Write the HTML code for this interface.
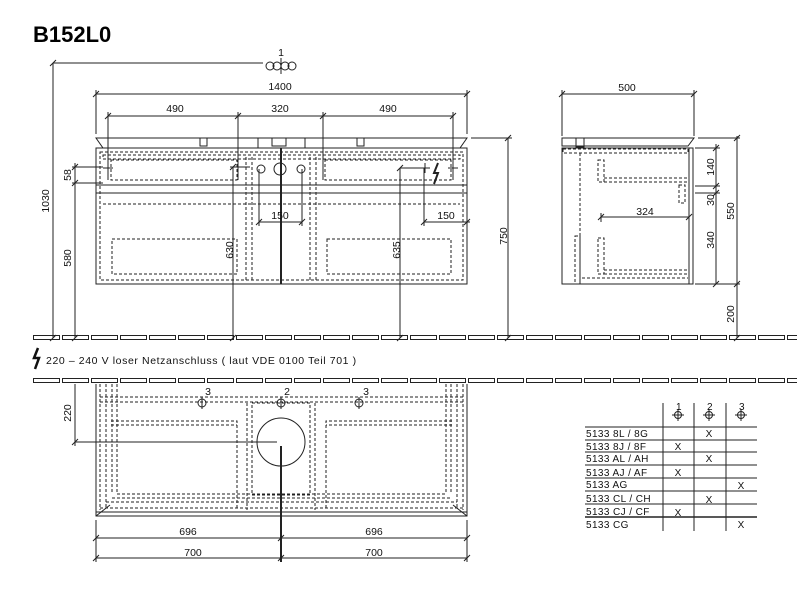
<!DOCTYPE html>
<html><head><meta charset="utf-8"><style>
html,body{margin:0;padding:0;background:#fff;width:797px;height:600px;overflow:hidden}
svg{display:block}
text{font-family:"Liberation Sans",sans-serif;fill:#111}
</style></head><body>
<svg width="797" height="600" viewBox="0 0 797 600" xmlns="http://www.w3.org/2000/svg">
<defs>
<pattern id="fl1" x="33" y="335" width="29" height="6" patternUnits="userSpaceOnUse">
<rect x="0.5" y="0.5" width="26" height="4" fill="none" stroke="#222" stroke-width="1"/>
</pattern>
<pattern id="fl2" x="33" y="378" width="29" height="6" patternUnits="userSpaceOnUse">
<rect x="0.5" y="0.5" width="26" height="4" fill="none" stroke="#222" stroke-width="1"/>
</pattern>
</defs>
<text x="33" y="42" font-size="22" font-weight="bold" style="fill:#000">B152L0</text>

<g stroke="#222" stroke-width="1" fill="none">
<rect x="33" y="335" width="764" height="6" fill="url(#fl1)" stroke="none"/>
<rect x="33" y="378" width="764" height="6" fill="url(#fl2)" stroke="none"/>

<line x1="53" y1="63" x2="53" y2="338"/>
<line x1="53" y1="63" x2="263" y2="63"/>
<path d="M50 66 L56 60 M50 341 L56 335"/>
<circle cx="270" cy="66" r="4"/><circle cx="277" cy="66" r="4"/><circle cx="285" cy="66" r="4"/><circle cx="292" cy="66" r="4"/>
<line x1="281" y1="58" x2="281" y2="74"/>

<line x1="96" y1="94" x2="467" y2="94"/>
<line x1="96" y1="90" x2="96" y2="134"/><line x1="467" y1="90" x2="467" y2="134"/>
<path d="M93 97 L99 91 M464 97 L470 91"/>
<line x1="108" y1="116" x2="453" y2="116"/>
<line x1="108" y1="112" x2="108" y2="180"/><line x1="453" y1="112" x2="453" y2="180"/>
<line x1="238" y1="112" x2="238" y2="180"/><line x1="323" y1="112" x2="323" y2="180"/>
<path d="M105 119 L111 113 M235 119 L241 113 M320 119 L326 113 M450 119 L456 113"/>

<path d="M96 138 L467 138 L460 148 L103 148 Z"/>
<path d="M200 138 v8 h7 v-8 M272 138 v8 h14 v-8 M357 138 v8 h7 v-8 M258 138 v10 M305 138 v10"/>
<rect x="96" y="148" width="371" height="136"/>
<line x1="96" y1="185" x2="467" y2="185"/>
<line x1="96" y1="193" x2="467" y2="193"/>
<line x1="281" y1="148" x2="281" y2="284" stroke-width="2"/>
<circle cx="261" cy="169" r="4"/><circle cx="280" cy="169" r="6"/><circle cx="301" cy="169" r="4"/>
<line x1="471" y1="138" x2="512" y2="138"/>
<line x1="508" y1="138" x2="508" y2="338"/>
<path d="M505 141 L511 135 M505 341 L511 335"/>
<line x1="72" y1="167" x2="103" y2="167"/><line x1="72" y1="183" x2="103" y2="183"/>
<line x1="75" y1="163" x2="75" y2="338"/>
<path d="M72 170 L78 164 M72 186 L78 180 M72 341 L78 335"/>
<line x1="233" y1="167" x2="233" y2="338"/><line x1="230" y1="167" x2="250" y2="167"/>
<path d="M230 341 L236 335 M230 170 L236 164"/>
<line x1="400" y1="168" x2="425" y2="168"/><line x1="400" y1="168" x2="400" y2="338"/>
<path d="M397 341 L403 335 M397 171 L403 165"/>
<path d="M438 163 L434 173 L438 173 L434 184" stroke-width="2"/>
<path d="M425 163 v10 M420 168 h10 M453 163 v10 M448 168 h10 M108 163 v10 M103 168 h10"/>
<line x1="259" y1="222" x2="302" y2="222"/><line x1="259" y1="169" x2="259" y2="226"/><line x1="302" y1="169" x2="302" y2="226"/>
<path d="M256 225 L262 219 M299 225 L305 219"/>
<line x1="424" y1="222" x2="470" y2="222"/><line x1="424" y1="168" x2="424" y2="226"/>
<path d="M421 225 L427 219 M464 225 L470 219"/>
</g>
<g stroke="#222" stroke-width="1" fill="none" stroke-dasharray="3,2">
<rect x="100" y="152" width="363" height="128"/>
<rect x="103" y="155" width="357" height="4"/>
<rect x="111" y="160" width="126" height="20"/><rect x="325" y="160" width="126" height="20"/>
<line x1="103" y1="204" x2="460" y2="204"/>
<rect x="112" y="239" width="125" height="35"/><rect x="327" y="239" width="124" height="35"/>
<line x1="246" y1="157" x2="246" y2="280"/><line x1="252" y1="157" x2="252" y2="280"/>
<line x1="310" y1="157" x2="310" y2="280"/><line x1="316" y1="157" x2="316" y2="280"/>
</g>

<g font-size="10.5" text-anchor="middle">
<text x="281" y="56">1</text>
<text x="280" y="90">1400</text>
<text x="175" y="112">490</text><text x="280" y="112">320</text><text x="388" y="112">490</text>
<text x="280" y="219">150</text><text x="446" y="219">150</text>
<text transform="translate(71,175) rotate(-90)">58</text>
<text transform="translate(71,258) rotate(-90)">580</text>
<text transform="translate(49,201) rotate(-90)">1030</text>
<text transform="translate(233,250) rotate(-90)">630</text>
<text transform="translate(400,250) rotate(-90)">635</text>
<text transform="translate(507,236) rotate(-90)">750</text>
</g>

<g stroke="#222" stroke-width="1" fill="none">
<line x1="562" y1="94" x2="694" y2="94"/>
<line x1="562" y1="90" x2="562" y2="136"/><line x1="694" y1="90" x2="694" y2="136"/>
<path d="M559 97 L565 91 M691 97 L697 91"/>
<path d="M562 138 L694 138 L688 146 L562 146 Z"/>
<path d="M576 138 v9 h8 v-9"/>
<rect x="562" y="148" width="131" height="136"/>
<line x1="689" y1="148" x2="689" y2="284"/>
<line x1="695" y1="148" x2="720" y2="148"/><line x1="695" y1="186" x2="720" y2="186"/><line x1="695" y1="193" x2="720" y2="193"/>
<line x1="716" y1="144" x2="716" y2="284"/>
<path d="M713 151 L719 145 M713 189 L719 183 M713 196 L719 190 M713 287 L719 281"/>
<line x1="698" y1="138" x2="740" y2="138"/>
<line x1="737" y1="136" x2="737" y2="338"/>
<line x1="695" y1="284" x2="740" y2="284"/>
<path d="M734 141 L740 135 M734 287 L740 281 M734 341 L740 335"/>
<line x1="601" y1="217" x2="689" y2="217"/><line x1="601" y1="213" x2="601" y2="222"/>
<path d="M598 220 L604 214 M686 220 L692 214"/>
</g>
<g stroke="#222" stroke-width="1" fill="none" stroke-dasharray="3,2">
<rect x="563" y="149" width="125" height="4"/>
<line x1="580" y1="153" x2="580" y2="284"/>
<rect x="598" y="160" width="6" height="22"/><line x1="604" y1="178" x2="688" y2="178"/><line x1="604" y1="182" x2="688" y2="182"/>
<rect x="679" y="185" width="6" height="18"/>
<rect x="598" y="238" width="6" height="36"/><line x1="604" y1="270" x2="688" y2="270"/><line x1="604" y1="274" x2="688" y2="274"/>
<rect x="575" y="236" width="5" height="48"/>
<line x1="582" y1="278" x2="688" y2="278"/>
</g>
<g font-size="10.5" text-anchor="middle">
<text x="627" y="91">500</text>
<text x="645" y="215">324</text>
<text transform="translate(714,167) rotate(-90)">140</text>
<text transform="translate(714,200) rotate(-90)">30</text>
<text transform="translate(714,240) rotate(-90)">340</text>
<text transform="translate(734,211) rotate(-90)">550</text>
<text transform="translate(734,314) rotate(-90)">200</text>
</g>

<path d="M38 348 L34 358 L39 358 L35 369" stroke="#111" stroke-width="2.5" fill="none"/>
<text x="46" y="364" font-size="10.5" letter-spacing="0.6">220 – 240 V loser Netzanschluss ( laut VDE 0100 Teil 701 )</text>

<g stroke="#222" stroke-width="1" fill="none">
<path d="M96 384 L96 516 L467 516 L467 384"/>
<line x1="96" y1="512" x2="467" y2="512"/>
<line x1="96" y1="516" x2="110" y2="505"/><line x1="467" y1="516" x2="453" y2="505"/>
<circle cx="281" cy="442" r="24"/>
<line x1="75" y1="442" x2="277" y2="442"/>
<line x1="75" y1="384" x2="75" y2="446"/>
<path d="M72 445 L78 439"/>
<line x1="281" y1="446" x2="281" y2="562" stroke-width="2"/>
<line x1="96" y1="520" x2="96" y2="562"/><line x1="467" y1="520" x2="467" y2="562"/>
<line x1="96" y1="538" x2="467" y2="538"/><line x1="96" y1="558" x2="467" y2="558"/>
<path d="M93 541 L99 535 M278 541 L284 535 M464 541 L470 535 M93 561 L99 555 M278 561 L284 555 M464 561 L470 555"/>
<circle cx="202" cy="403" r="4"/><circle cx="281" cy="403" r="4"/><circle cx="359" cy="403" r="4"/>
<path d="M202 397 v12 M281 397 v12 M359 397 v12"/>
</g>
<g stroke="#222" stroke-width="1" fill="none" stroke-dasharray="3,2">
<line x1="100" y1="384" x2="100" y2="510"/><line x1="106" y1="384" x2="106" y2="508"/>
<line x1="112" y1="384" x2="112" y2="494"/><line x1="117" y1="384" x2="117" y2="494"/>
<line x1="463" y1="384" x2="463" y2="510"/><line x1="457" y1="384" x2="457" y2="508"/>
<line x1="451" y1="384" x2="451" y2="494"/><line x1="446" y1="384" x2="446" y2="494"/>
<line x1="100" y1="397" x2="463" y2="397"/><line x1="100" y1="402" x2="463" y2="402"/>
<path d="M111 421 H237 V510 M111 425 H237"/>
<path d="M452 421 H326 V510 M452 425 H326"/>
<line x1="117" y1="494" x2="446" y2="494"/><line x1="112" y1="498" x2="451" y2="498"/>
<line x1="106" y1="502" x2="457" y2="502"/><line x1="100" y1="508" x2="463" y2="508"/>
<rect x="252" y="403" width="58" height="92"/>
<line x1="247" y1="403" x2="247" y2="510"/><line x1="315" y1="403" x2="315" y2="510"/>
</g>
<g font-size="10.5" text-anchor="middle">
<text x="208" y="395">3</text><text x="287" y="395">2</text><text x="366" y="395">3</text>
<text transform="translate(71,413) rotate(-90)">220</text>
<text x="188" y="535">696</text><text x="374" y="535">696</text>
<text x="193" y="556">700</text><text x="374" y="556">700</text>
</g>

<!-- table -->
<g stroke="#222" stroke-width="1" fill="none">
<line x1="663" y1="403" x2="663" y2="531"/><line x1="694" y1="403" x2="694" y2="531"/><line x1="726" y1="403" x2="726" y2="531"/>
<path d="M585 427 H757 M585 440 H757 M585 452 H757 M585 465 H757 M585 478 H757 M585 491 H757 M585 504 H757"/>
<line x1="585" y1="517" x2="757" y2="517" stroke-width="1.6"/>
<circle cx="678" cy="415" r="3.5"/><path d="M678 409 v12 M672 415 h12"/>
<circle cx="709" cy="415" r="3.5"/><path d="M709 409 v12 M703 415 h12"/>
<circle cx="741" cy="415" r="3.5"/><path d="M741 409 v12 M735 415 h12"/>
</g>
<g font-size="10" letter-spacing="0.4">
<text x="676" y="410">1</text><text x="707" y="410">2</text><text x="739" y="410">3</text>
<text x="586" y="437">5133 8L / 8G</text>
<text x="586" y="450">5133 8J / 8F</text>
<text x="586" y="462">5133 AL / AH</text>
<text x="586" y="476">5133 AJ / AF</text>
<text x="586" y="488">5133 AG</text>
<text x="586" y="502">5133 CL / CH</text>
<text x="586" y="515">5133 CJ / CF</text>
<text x="586" y="528">5133 CG</text>
</g>
<g font-size="10" text-anchor="middle">
<text x="709" y="437">X</text><text x="678" y="450">X</text><text x="709" y="462">X</text>
<text x="678" y="476">X</text><text x="741" y="489">X</text><text x="709" y="503">X</text>
<text x="678" y="516">X</text><text x="741" y="528">X</text>
</g>
</svg>
</body></html>
